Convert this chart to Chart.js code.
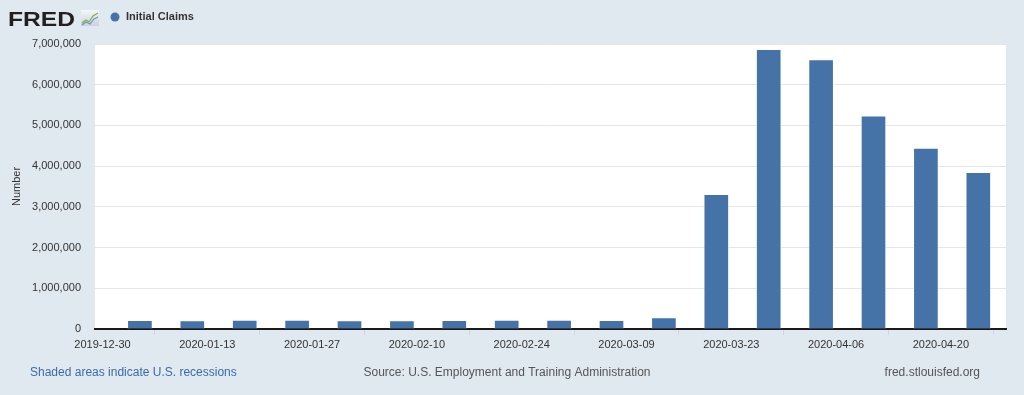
<!DOCTYPE html>
<html>
<head>
<meta charset="utf-8">
<title>Initial Claims</title>
<script src="https://cdn.jsdelivr.net/npm/chart.js@4.4.1/dist/chart.umd.min.js"></script>
<style>
  html, body { margin: 0; padding: 0; background: #e1e9f0; }
  #wrap { position: relative; width: 1024px; height: 395px; }
</style>
</head>
<body>
<div id="wrap"><canvas id="canvas"></canvas></div>
<script>
// weekly initial claims (week ending), seasonally adjusted
var weeks = ['2020-01-04', '2020-01-11', '2020-01-18', '2020-01-25', '2020-02-01', '2020-02-08',
    '2020-02-15', '2020-02-22', '2020-02-29', '2020-03-07', '2020-03-14', '2020-03-21',
    '2020-03-28', '2020-04-04', '2020-04-11', '2020-04-18', '2020-04-25'];
var initialClaims = [214000, 207000, 220000, 217000, 204000, 206000,
    215000, 220000, 217000, 211000, 282000, 3307000,
    6867000, 6615000, 5237000, 4442000, 3846000];
var tickLabels = ['2019-12-30', '2020-01-13', '2020-01-27', '2020-02-10', '2020-02-24',
    '2020-03-09', '2020-03-23', '2020-04-06', '2020-04-20'];
var yTicks = [0, 1000000, 2000000, 3000000, 4000000, 5000000, 6000000, 7000000];

var seriesName = 'Initial Claims';
var barColor = '#4572a7';
var font = '"Liberation Sans", Arial, Helvetica, sans-serif';

// x axis is days counted from the first tick label
var origin = Date.parse(tickLabels[0] + 'T00:00:00Z');
function toDay(s) { return (Date.parse(s + 'T00:00:00Z') - origin) / 86400000; }
function toDate(d) { return new Date(origin + d * 86400000).toISOString().slice(0, 10); }

var points = weeks.map(function (w, i) { return { x: toDay(w), y: initialClaims[i] }; });

var fredDecor = {
    id: 'fredDecor',
    beforeDraw: function (chart) {
        var ctx = chart.ctx, a = chart.chartArea;
        ctx.save();
        ctx.fillStyle = '#e1e9f0';
        ctx.fillRect(0, 0, chart.width, chart.height);
        ctx.fillStyle = '#ffffff';
        ctx.fillRect(a.left, a.top, a.right - a.left, a.bottom - a.top);
        ctx.restore();
    },
    afterDraw: function (chart) {
        var ctx = chart.ctx;
        ctx.save();

        // logo
        ctx.fillStyle = '#231f20';
        ctx.font = 'bold 21px ' + font;
        ctx.textBaseline = 'alphabetic';
        var w = ctx.measureText('FRED').width;
        ctx.translate(8, 26);
        ctx.scale(67 / w, 1);
        ctx.fillText('FRED', 0, 0);
        ctx.setTransform(1, 0, 0, 1, 0, 0);
        var g = ctx.createLinearGradient(0, 10, 0, 26);
        g.addColorStop(0, '#f4f6f8');
        g.addColorStop(1, '#c9d3dc');
        ctx.fillStyle = g;
        ctx.fillRect(81, 10, 18, 16);
        ctx.lineWidth = 1.2;
        ctx.strokeStyle = '#7fb048';
        ctx.beginPath();
        ctx.moveTo(82, 23); ctx.lineTo(86, 20); ctx.lineTo(89, 22); ctx.lineTo(93, 16); ctx.lineTo(98, 13);
        ctx.stroke();
        ctx.strokeStyle = '#6f93c0';
        ctx.beginPath();
        ctx.moveTo(82, 25); ctx.lineTo(86, 22); ctx.lineTo(90, 24); ctx.lineTo(94, 19); ctx.lineTo(98, 17);
        ctx.stroke();

        // legend
        ctx.fillStyle = barColor;
        ctx.beginPath();
        ctx.arc(115, 17, 4.5, 0, Math.PI * 2);
        ctx.fill();
        ctx.fillStyle = '#333333';
        ctx.font = 'bold 11px ' + font;
        ctx.textBaseline = 'middle';
        ctx.fillText(seriesName, 126, 17);

        // footer
        ctx.font = '12px ' + font;
        ctx.fillStyle = '#3a6ba8';
        ctx.textAlign = 'left';
        ctx.fillText('Shaded areas indicate U.S. recessions', 30, 373, 210);
        ctx.fillStyle = '#555555';
        ctx.textAlign = 'center';
        ctx.fillText('Source: U.S. Employment and Training Administration', 507, 373, 295);
        ctx.textAlign = 'right';
        ctx.fillText('fred.stlouisfed.org', 980, 373, 108);
        ctx.restore();
    }
};

var ctx = document.getElementById('canvas').getContext('2d');

var myBarChart = new Chart(ctx, {
    type: 'bar',
    data: {
        datasets: [{
            label: seriesName,
            data: points,
            backgroundColor: barColor,
            borderColor: 'rgba(255,255,255,0.45)',
            borderWidth: 1,
            barThickness: 25
        }]
    },
    options: {
        responsive: true,
        maintainAspectRatio: false,
        animation: false,
        layout: { padding: { left: 0, top: 44, right: 18, bottom: 0 } },
        plugins: {
            legend: { display: false },
            tooltip: { enabled: false }
        },
        scales: {
            x: {
                type: 'linear',
                min: -1,
                max: 120.7,
                offset: false,
                afterBuildTicks: function (scale) {
                    scale.ticks = tickLabels.map(function (t) { return { value: toDay(t) }; });
                },
                afterFit: function (scale) { scale.height = 66; },
                grid: {
                    drawOnChartArea: false,
                    drawTicks: true,
                    tickLength: 6,
                    color: '#ccd6eb'
                },
                border: { display: true, color: '#1a1a1a', width: 2 },
                ticks: {
                    color: '#333333',
                    font: { size: 11, family: font },
                    padding: 3,
                    maxRotation: 0,
                    autoSkip: false,
                    callback: function (v) { return toDate(v); }
                }
            },
            y: {
                min: 0,
                max: 7000000,
                afterBuildTicks: function (scale) {
                    scale.ticks = yTicks.map(function (v) { return { value: v }; });
                },
                afterFit: function (scale) { scale.width = 95; },
                grid: { color: '#e6e6e6', drawTicks: false },
                border: { display: false },
                ticks: {
                    color: '#333333',
                    font: { size: 11, family: font },
                    padding: 14,
                    callback: function (v) { return v.toLocaleString('en-US'); }
                },
                title: {
                    display: true,
                    text: 'Number',
                    color: '#333333',
                    font: { size: 11, family: font },
                    padding: { top: 10, bottom: 0 }
                }
            }
        }
    },
    plugins: [fredDecor]
});
</script>
</body>
</html>
